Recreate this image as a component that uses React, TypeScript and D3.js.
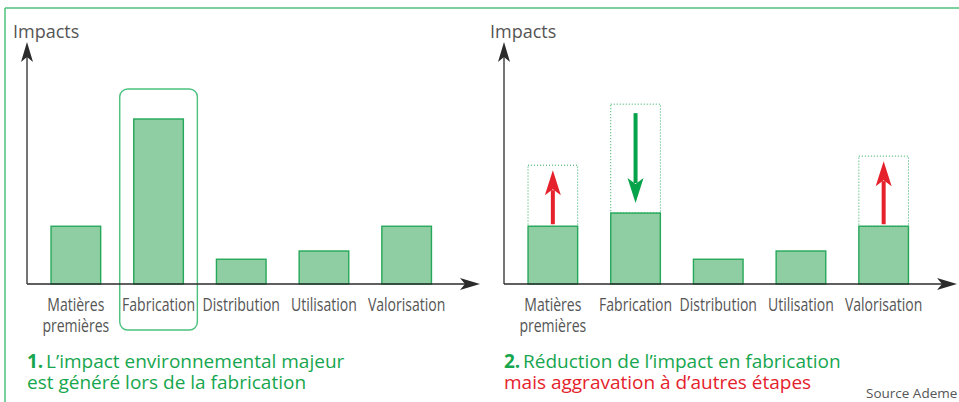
import React from "react";
import * as d3 from "d3";

// stages of the life cycle, label split on two lines where needed
const stages = ["Matières premières", "Fabrication", "Distribution", "Utilisation", "Valorisation"];
const stageLines = [["Matières", "premières"], ["Fabrication"], ["Distribution"], ["Utilisation"], ["Valorisation"]];

// relative impact per stage (arbitrary units)
const impactBefore = [3.5, 10, 1.5, 2, 3.5];
const impactAfter = [3.5, 4.3, 1.5, 2, 3.5];
// dotted "ghost" level showing the change, null when unchanged
const impactGhost: (number | null)[] = [7.2, 10.9, null, null, 7.75];
// which way the change goes: up = aggravation, down = reduction
const changeDirection: ("up" | "down" | null)[] = ["up", "down", null, null, "up"];

const panelNumbers = ["1.", "2."];
const panelLines = [
  ["L’impact environnemental majeur", "est généré lors de la fabrication"],
  ["Réduction de l’impact en fabrication", "mais aggravation à d’autres étapes"],
];
const panelLineTone = [["green", "green"], ["green", "red"]];

const W = 959;
const H = 402;
const GREEN = "#16a64e";
const RED = "#e5222b";
const BAR_FILL = "#8ecea2";
const BAR_STROKE = "#26a85a";
const FRAME = "#4cc27e";
const AXIS = "#2b2b2b";
const TEXT = "#555";
const FONT = "'Open Sans', sans-serif";
const CONDENSE = 0.78;

const y = d3.scaleLinear().domain([0, 11]).range([284, 102.5]);
const panelOffsets = [27, 504];

function Condensed({ x, yy, children, anchor = "middle", size = 18, fill = TEXT }: any) {
  return (
    <text
      transform={`translate(${x},${yy}) scale(${CONDENSE},1)`}
      textAnchor={anchor}
      fontSize={size}
      fill={fill}
      fontFamily={FONT}
    >
      {children}
    </text>
  );
}

function arrowHead(tipX: number, tipY: number, dir: "up" | "down" | "right", len: number, half: number, notch: number) {
  if (dir === "right") {
    return `M${tipX},${tipY} L${tipX - len},${tipY - half} L${tipX - len + notch},${tipY} L${tipX - len},${tipY + half} Z`;
  }
  const s = dir === "up" ? 1 : -1;
  return `M${tipX},${tipY} L${tipX - half},${tipY + s * len} L${tipX},${tipY + s * (len - notch)} L${tipX + half},${tipY + s * len} Z`;
}

function Panel({ idx }: { idx: number }) {
  const x0 = panelOffsets[idx];
  const x = d3.scaleBand<string>().domain(stages).range([x0 + 7.5, x0 + 421]).paddingInner(0.4).paddingOuter(0.2);
  const values = idx === 0 ? impactBefore : impactAfter;
  const xEnd = x0 + 453;
  const base = y(0);

  return (
    <g>
      <text x={x0 - 14} y={38} fontSize={18} fill={TEXT} fontFamily={FONT}>Impacts</text>

      {/* bars */}
      {stages.map((s, i) => (
        <rect
          key={s}
          x={x(s)!}
          y={y(values[i])}
          width={x.bandwidth()}
          height={base - y(values[i])}
          fill={BAR_FILL}
          stroke={BAR_STROKE}
          strokeWidth={1.4}
        />
      ))}

      {/* highlight of the major stage */}
      {idx === 0 && (
        <rect
          x={x("Fabrication")! - 14}
          y={89}
          width={x.bandwidth() + 28}
          height={241}
          rx={8}
          fill="none"
          stroke={FRAME}
          strokeWidth={1.4}
        />
      )}

      {/* ghost boxes and change arrows */}
      {idx === 1 && stages.map((s, i) => {
        const g = impactGhost[i];
        const dir = changeDirection[i];
        if (g == null || dir == null) return null;
        const cx = x(s)! + x.bandwidth() / 2;
        const yg = y(g);
        const ya = y(values[i]);
        const up = dir === "up";
        const top = Math.min(yg, ya);
        const bottom = Math.max(yg, ya);
        const color = up ? RED : "#05a34a";
        const tipY = up ? yg + 5 : ya - 10;
        const tailY = up ? ya - 2 : yg + 9;
        return (
          <g key={s}>
            <rect
              x={x(s)!}
              y={top}
              width={x.bandwidth()}
              height={bottom - top}
              fill="none"
              stroke={BAR_STROKE}
              strokeWidth={1}
              strokeDasharray="1,2"
            />
            <line
              x1={cx}
              x2={cx}
              y1={tailY}
              y2={up ? tipY + 20 : tipY - 20}
              stroke={color}
              strokeWidth={4}
            />
            <path d={arrowHead(cx, tipY, up ? "up" : "down", 25, 8, 6)} fill={color} />
          </g>
        );
      })}

      {/* axes */}
      <line x1={x0} x2={x0} y1={base} y2={52} stroke={AXIS} strokeWidth={1.3} />
      <path d={arrowHead(x0, 42, "up", 20, 6, 5)} fill={AXIS} />
      <line x1={x0} x2={xEnd - 10} y1={base} y2={base} stroke={AXIS} strokeWidth={1.3} />
      <path d={arrowHead(xEnd, base, "right", 20, 6, 5)} fill={AXIS} />

      {/* stage labels */}
      {stages.map((s, i) => (
        <Condensed key={s} x={x(s)! + x.bandwidth() / 2} yy={311}>
          {stageLines[i].map((ln, j) => (
            <tspan key={j} x={0} dy={j === 0 ? 0 : 21}>{ln}</tspan>
          ))}
        </Condensed>
      ))}

      {/* panel caption */}
      <text x={x0} y={368} fontSize={19} fontWeight="bold" fontFamily={FONT} fill={GREEN}>
        {panelNumbers[idx]}
      </text>
      {panelLines[idx].map((t, j) => (
        <text
          key={j}
          x={j === 0 ? x0 + 19 : x0}
          y={368 + j * 21}
          fontSize={19}
          fontFamily={FONT}
          fill={panelLineTone[idx][j] === "red" ? RED : GREEN}
        >
          {t}
        </text>
      ))}
    </g>
  );
}

export default function App() {
  return (
    <svg
      width={W}
      height={H}
      viewBox={`0 0 ${W} ${H}`}
      style={{ position: "absolute", left: 0, top: 0, display: "block", background: "#fff" }}
    >
      <rect width={W} height={H} fill="#fff" />
      <line x1={5} x2={W} y1={8} y2={8} stroke={FRAME} strokeWidth={1.5} />
      <line x1={5} x2={5} y1={8} y2={H} stroke={FRAME} strokeWidth={1.5} />
      <Panel idx={0} />
      <Panel idx={1} />
      <text x={866} y={398} fontSize={13.5} fill={TEXT} fontFamily={FONT}>Source Ademe</text>
    </svg>
  );
}
